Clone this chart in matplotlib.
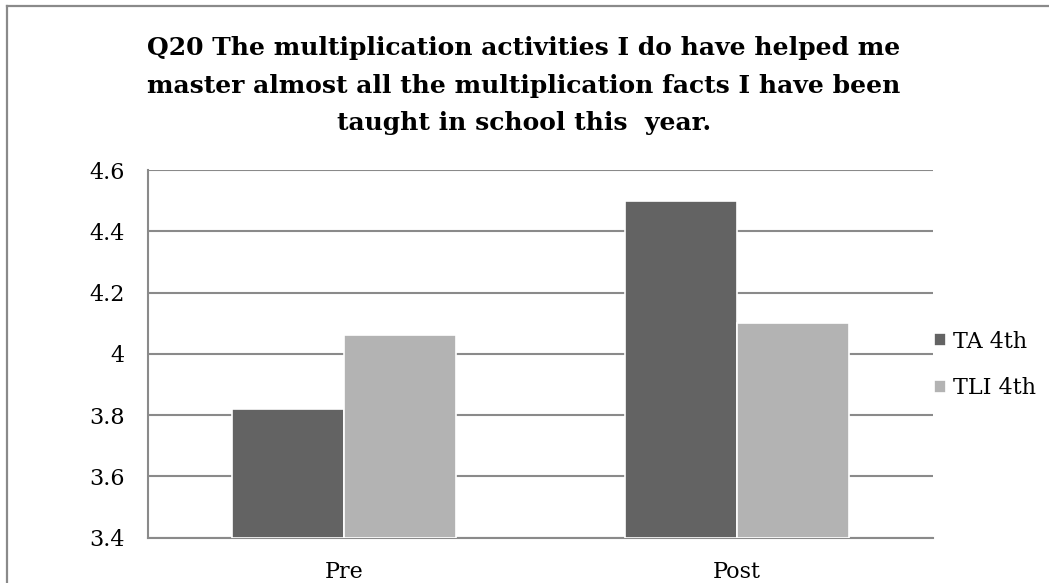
import matplotlib
matplotlib.use("Agg")
import matplotlib.pyplot as plt
from matplotlib.lines import Line2D
import numpy as np

# data
categories = ["Pre", "Post"]
series_names = ["TA 4th", "TLI 4th"]
ta_4th = [3.82, 4.50]
tli_4th = [4.06, 4.10]
yticks = [3.4, 3.6, 3.8, 4.0, 4.2, 4.4, 4.6]
ytick_labels = ["3.4", "3.6", "3.8", "4", "4.2", "4.4", "4.6"]

colors = ["#636363", "#b3b3b3"]
grid_col = "#8a8a8a"
title = ("Q20 The multiplication activities I do have helped me\n"
         "master almost all the multiplication facts I have been\n"
         "taught in school this  year.")

fig = plt.figure(figsize=(10.49, 5.83), dpi=100)
ax = fig.add_axes([0.1411, 0.0777, 0.7483, 0.6307])

x = np.arange(len(categories))
w = 0.285
for i, (vals, name) in enumerate(zip([ta_4th, tli_4th], series_names)):
    ax.bar(x + (i - 0.5) * w, np.array(vals) - 3.4, w, bottom=3.4,
           color=colors[i], edgecolor="white", linewidth=1.2,
           label=name, zorder=3)

ax.set_xlim(-0.5, 1.5)
ax.set_ylim(3.4, 4.6)
ax.set_yticks(yticks)
ax.set_yticklabels(ytick_labels)
ax.set_xticks(x)
ax.set_xticklabels(categories)
ax.yaxis.grid(True, color=grid_col, linewidth=1.5, zorder=0)
ax.set_axisbelow(True)
for s in ["top", "right"]:
    ax.spines[s].set_visible(False)
for s in ["left", "bottom"]:
    ax.spines[s].set_color(grid_col)
    ax.spines[s].set_linewidth(1.5)
ax.tick_params(length=0, labelsize=16)
ax.tick_params(axis="y", pad=17)
ax.tick_params(axis="x", pad=17)
for lab in ax.get_xticklabels() + ax.get_yticklabels():
    lab.set_fontfamily("DejaVu Serif")

leg = ax.legend(loc="center left", bbox_to_anchor=(0.99, 0.47), frameon=False,
                borderaxespad=0, handlelength=0.55, handleheight=0.55,
                handletextpad=0.3, labelspacing=1.1,
                prop={"family": "DejaVu Serif", "size": 16})

fig.text(0.4995, 0.853, title, ha="center", va="center", fontsize=18,
         fontweight="bold", family="DejaVu Serif", linespacing=1.7)

# outer frame (only top/left visible in the crop)
fig.add_artist(Line2D([7 / 1049, 1], [1 - 6 / 583, 1 - 6 / 583],
                      color=grid_col, linewidth=1.6, transform=fig.transFigure))
fig.add_artist(Line2D([7 / 1049, 7 / 1049], [0, 1 - 6 / 583],
                      color=grid_col, linewidth=1.6, transform=fig.transFigure))

fig.savefig("out.png", dpi=100)
